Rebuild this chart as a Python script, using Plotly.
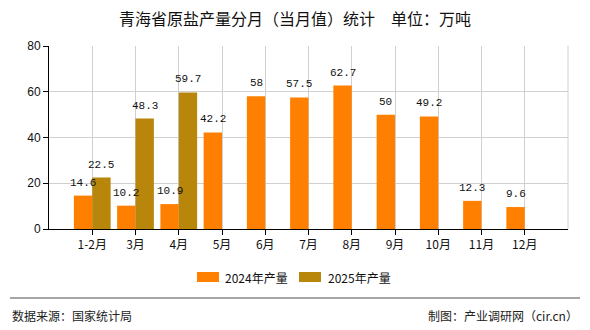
import plotly.graph_objects as go

categories = ["1-2月", "3月", "4月", "5月", "6月", "7月", "8月", "9月", "10月", "11月", "12月"]
values_2024 = [14.6, 10.2, 10.9, 42.2, 58, 57.5, 62.7, 50, 49.2, 12.3, 9.6]
values_2025 = [22.5, 48.3, 59.7, None, None, None, None, None, None, None, None]
series_names = ["2024年产量", "2025年产量"]
series_colors = ["#FF8000", "#B8860B"]
y_ticks = [0, 20, 40, 60, 80]

FONT = "Noto Sans CJK SC"
LABEL_FONT = dict(family="Liberation Mono, DejaVu Sans Mono", size=11, color="#111")

PL, PR, PT, PB = 49, 568, 46, 229
PW, PH = PR - PL, PB - PT
BARGAP = 0.15
CAT_PX = PW / 12.0
HALF_BAR_PX = CAT_PX * (1 - BARGAP) / 4.0


def px(x):
    return (x - PL) / PW


def py(y):
    return (PB - y) / PH


fig = go.Figure()
for vals, name, color in zip([values_2024, values_2025], series_names, series_colors):
    fig.add_trace(go.Bar(
        x=categories, y=vals, name=name,
        marker=dict(color=color, line=dict(width=0)),
        showlegend=False,
    ))

# value labels drawn on top of all bars
for vals, sign in zip([values_2024, values_2025], [-1, 1]):
    for c, v in zip(categories, vals):
        if v is None:
            continue
        fig.add_annotation(x=c, y=v, text=f"{v:g}", showarrow=False,
                           xshift=sign * HALF_BAR_PX, yshift=5,
                           xanchor="center", yanchor="bottom",
                           font=LABEL_FONT)

fig.update_layout(
    width=590, height=330,
    margin=dict(l=PL, r=590 - PR, t=PT, b=330 - PB),
    paper_bgcolor="white", plot_bgcolor="white",
    barmode="group", bargap=BARGAP, bargroupgap=0,
    font=dict(family=FONT, size=12, color="#111"),
    title=dict(text="青海省原盐产量分月（当月值）统计　单位：万吨", x=0.5, xanchor="center",
               y=1 - 19.5 / 330, yanchor="middle",
               font=dict(family=FONT, size=16, color="#111")),
)
fig.update_xaxes(
    type="category", range=[-1, 11],
    showline=True, linecolor="#000", linewidth=1,
    showgrid=True, gridcolor="#d0d0d0", gridwidth=1,
    ticks="outside", ticklen=5, tickcolor="#000",
    tickfont=dict(family=FONT, size=12, color="#111"),
)
fig.update_yaxes(
    range=[0, 80], tickvals=y_ticks,
    showline=True, linecolor="#000", linewidth=1,
    showgrid=True, gridcolor="#d0d0d0", gridwidth=1,
    ticks="outside", ticklen=5, tickcolor="#000",
    tickfont=dict(family="Liberation Sans, DejaVu Sans", size=12, color="#111"),
    zeroline=False,
)
# end gridline on right edge
fig.add_shape(type="line", xref="paper", yref="paper", x0=1, x1=1, y0=0, y1=1,
              line=dict(color="#d0d0d0", width=1))

# legend (drawn manually to match wide swatches)
legend_items = [(197, 223), (299, 326)]
for (sx, tx), name, color in zip(legend_items, series_names, series_colors):
    fig.add_shape(type="rect", xref="paper", yref="paper",
                  x0=px(sx), x1=px(sx + 22), y0=py(282), y1=py(272),
                  fillcolor=color, line=dict(width=0))
    fig.add_annotation(text=name, xref="paper", yref="paper",
                       x=px(tx), y=py(277), xanchor="left", yanchor="middle",
                       showarrow=False, font=dict(family=FONT, size=12, color="#111"))

# footer separator
fig.add_shape(type="line", xref="paper", yref="paper",
              x0=px(10), x1=px(580), y0=py(298), y1=py(298),
              line=dict(color="#888", width=1.5))
fig.add_annotation(text="数据来源：国家统计局", xref="paper", yref="paper",
                   x=px(10), y=py(315), xanchor="left", yanchor="middle",
                   showarrow=False, font=dict(family=FONT, size=12, color="#222"))
fig.add_annotation(text="制图：产业调研网（cir.cn）", xref="paper", yref="paper",
                   x=px(580), y=py(315), xanchor="right", yanchor="middle",
                   showarrow=False, font=dict(family=FONT, size=12, color="#222"))

fig.write_html("out.html")
